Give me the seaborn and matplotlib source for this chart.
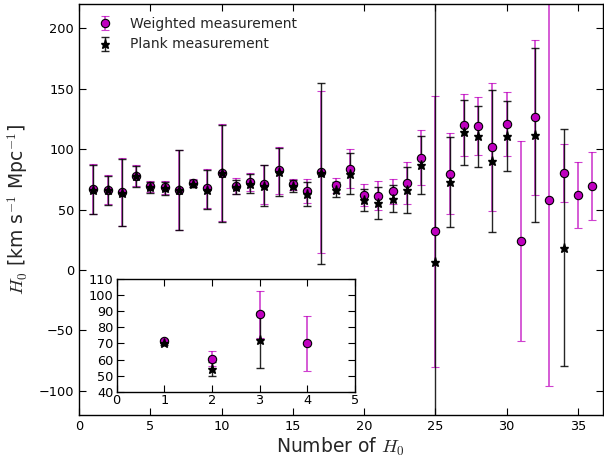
import numpy as np
import matplotlib

matplotlib.use("Agg")
import matplotlib.pyplot as plt
import seaborn as sns

# measurement index on the x axis
n_idx = list(range(1, 37))

# weighted measurement: value, lower error, upper error
w_val = [67, 66.4, 64.5, 78, 69.4, 68.3, 66.4, 71.9, 67.5, 80.5,
         69.4, 72.7, 70.8, 82.4, 70.8, 65.3, 81, 70, 83.8, 62,
         61.5, 65, 72.2, 92.9, 32, 79.7, 119.6, 119, 101.4, 120.7,
         24, 126.4, 58.2, 79.9, 62, 69.4]
w_lo = [20.5, 12, 28, 8.5, 4.5, 5.6, 33, 3, 16, 40,
        6.5, 7.5, 16, 19.5, 4.7, 10, 67, 6.3, 16, 8.7,
        12, 10.6, 17.5, 22.8, 112, 33.7, 25.6, 24, 53, 26.5,
        83, 64, 154, 24, 27.5, 28]
w_hi = [20.5, 12, 28, 8.5, 4.5, 5.6, 33, 3, 16, 40,
        6.5, 7.5, 16, 19.5, 4.7, 10, 67, 6.3, 16, 8.7,
        12, 10.6, 17.5, 22.8, 112, 33.7, 25.6, 24, 53, 26.5,
        83, 64, 170, 24, 27.5, 28]

# Planck measurement (nan = no value)
nan = np.nan
p_val = [66.5, 66, 64, 77.5, 68.5, 67.5, 66, 71.5, 66.5, 80,
         68.5, 71.5, 69.5, 81, 69.5, 63, 80, 66.4, 79.7, 57.6,
         55.4, 59, 66.4, 87.1, 6.6, 72.7, 114, 110.5, 90, 110.5,
         nan, 111.9, nan, 18.5, nan, nan]
p_err = [20.5, 12, 28, 8.5, 4.5, 5.6, 33, 3, 16, 40,
         6, 8, 17, 20, 5, 10, 75, 6, 17, 9,
         13, 11.3, 19, 24, 300, 37, 27, 25.5, 59, 29,
         nan, 72, nan, 98, nan, nan]

# inset
in_idx = [1, 2, 3, 4]
in_w_val = [71.5, 60.5, 88, 70]
in_w_err = [1.5, 4.7, 14.5, 17.2]
in_p_val = [70.5, 54, 72, nan]
in_p_err = [1.5, 4.5, 17.5, nan]

MAG = "#bf00bf"

sns.set_style("ticks")
plt.rcParams.update({
    "font.family": ["DejaVu Sans"],
    "mathtext.fontset": "cm",
    "xtick.direction": "in",
    "ytick.direction": "in",
    "xtick.top": True,
    "ytick.right": True,
    "xtick.major.size": 5,
    "ytick.major.size": 5,
    "axes.linewidth": 1.0,
    "axes.edgecolor": "black",
    "xtick.color": "black",
    "ytick.color": "black",
})


def draw(ax, x, wv, werr, pv, perr, labels=True):
    eb_w = ax.errorbar(x, wv, yerr=werr, fmt="o", color=MAG, ecolor=MAG, elinewidth=1.2,
                       capsize=3, capthick=1.2, mec="black", mew=0.8, ms=6,
                       label="Weighted measurement" if labels else None)
    for part in eb_w.lines[1] + eb_w.lines[2]:
        part.set_alpha(0.75)
    eb_p = ax.errorbar(x, pv, yerr=perr, fmt="*", color="black", ecolor="black",
                       elinewidth=1.0, capsize=3, capthick=1.0, ms=6.5,
                       label="Plank measurement" if labels else None)
    for part in eb_p.lines[1] + eb_p.lines[2]:
        part.set_alpha(0.85)


fig = plt.figure(figsize=(6.04, 4.66), dpi=100)
ax = fig.add_axes([0.1308, 0.1094, 0.8672, 0.882])
draw(ax, n_idx, w_val, [w_lo, w_hi], p_val, p_err)
ax.set_xlim(0, 36.75)
ax.set_ylim(-120, 220)
ax.set_xticks([0, 5, 10, 15, 20, 25, 30, 35])
ax.set_yticks([-100, -50, 0, 50, 100, 150, 200])
ax.tick_params(labelsize=9.3)
ax.set_xlabel(r"Number of $H_0$", fontsize=13.5, labelpad=2)
ax.set_ylabel(r"$H_0$ [km s$^{-1}$ Mpc$^{-1}$]", fontsize=13.5, labelpad=6)
ax.legend(loc="upper left", frameon=False, numpoints=1, fontsize=10,
          handlelength=2, labelspacing=0.5)

ins = fig.add_axes([0.193, 0.1594, 0.3945, 0.2418])
draw(ins, in_idx, in_w_val, in_w_err, in_p_val, in_p_err, labels=False)
ins.set_xlim(0, 5)
ins.set_ylim(40, 110)
ins.set_yticks(range(40, 111, 10))
ins.set_xticks(range(0, 6))
ins.tick_params(labelsize=9.3, pad=2)

fig.savefig("out.png", dpi=100)
